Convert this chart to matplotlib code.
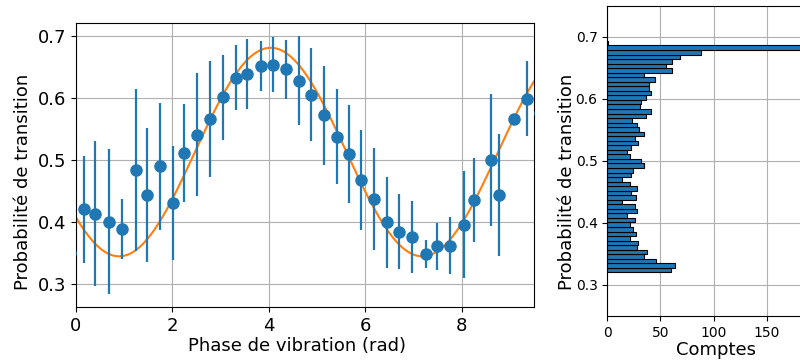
import numpy as np
import matplotlib
matplotlib.use("Agg")
import matplotlib.pyplot as plt

# measured transition probability vs vibration phase
phase = [-0.12, 0.17, 0.41, 0.70, 0.97, 1.25, 1.48, 1.75, 2.01, 2.25, 2.51, 2.79,
         3.05, 3.32, 3.56, 3.84, 4.08, 4.35, 4.63, 4.87, 5.14, 5.41, 5.66, 5.92,
         6.19, 6.45, 6.71, 6.98, 7.25, 7.49, 7.76, 8.05, 8.26, 8.61, 8.78, 9.08,
         9.35, 9.62]
prob = [0.351, 0.421, 0.414, 0.401, 0.389, 0.484, 0.444, 0.490, 0.431, 0.511,
        0.541, 0.566, 0.601, 0.633, 0.639, 0.652, 0.654, 0.646, 0.628, 0.605,
        0.572, 0.538, 0.510, 0.468, 0.438, 0.400, 0.385, 0.376, 0.349, 0.361,
        0.362, 0.396, 0.436, 0.500, 0.444, 0.566, 0.599, 0.576]
prob_err = [0.010, 0.086, 0.117, 0.117, 0.049, 0.130, 0.108, 0.102, 0.092, 0.079,
            0.099, 0.093, 0.069, 0.052, 0.056, 0.040, 0.045, 0.048, 0.072, 0.075,
            0.080, 0.077, 0.079, 0.081, 0.082, 0.073, 0.061, 0.058, 0.022, 0.038,
            0.046, 0.086, 0.068, 0.106, 0.098, 0.007, 0.060, 0.020]

# sinusoidal fit: p(phi) = offset - amp * cos(phi - phi0)
fit_offset = 0.513
fit_amp = 0.168
fit_phi0 = 0.90

# histogram of transition probabilities (bottom bin -> top bin)
hist_lo, hist_hi = 0.3203, 0.6936
hist_counts = [60, 64, 46, 35, 37, 28, 29, 21, 27, 24, 21, 26, 19, 28, 26, 14,
               27, 22, 28, 21, 14, 22, 24, 35, 32, 21, 19, 22, 29, 26, 35, 30,
               28, 23, 36, 41, 31, 32, 36, 41, 39, 39, 45, 35, 61, 55, 61, 68,
               88, 250, 1]

blue = "#1f77b4"
orange = "#ff7f0e"

fig = plt.figure(figsize=(8.0, 3.63), dpi=100)
ax1 = fig.add_axes([0.0946, 0.1543, 0.5733, 0.7832])
ax2 = fig.add_axes([0.7591, 0.1295, 0.2434, 0.8540])

# --- left panel: data + fit ---
phi = np.linspace(-0.5, 10, 400)
ax1.plot(phi, fit_offset - fit_amp * np.cos(phi - fit_phi0), color=orange, lw=1.5, zorder=2)
ax1.errorbar(phase, prob, yerr=prob_err, fmt="o", color=blue, ms=8, elinewidth=1.6,
             capsize=0, zorder=3)
ax1.set_xlim(0, 9.505)
ax1.set_ylim(0.2634, 0.7214)
ax1.set_xticks([0, 2, 4, 6, 8])
ax1.set_yticks([0.3, 0.4, 0.5, 0.6, 0.7])
ax1.set_xlabel("Phase de vibration (rad)", fontsize=13, labelpad=2)
ax1.set_ylabel("Probabilité de transition", fontsize=13)
ax1.xaxis.label.set_x(0.4836)
ax1.yaxis.label.set_y(0.4414)
ax1.tick_params(labelsize=13)
ax1.grid(True, color="#b0b0b0", lw=0.8)
ax1.set_axisbelow(True)

# --- right panel: histogram ---
edges = np.linspace(hist_lo, hist_hi, len(hist_counts) + 1)
centers = 0.5 * (edges[:-1] + edges[1:])
ax2.hist(centers, bins=edges, weights=hist_counts, orientation="horizontal",
         color=blue, edgecolor="black", lw=0.8)
ax2.set_xlim(0, 183.3)
ax2.set_ylim(0.25, 0.75)
ax2.set_xticks([0, 50, 100, 150])
ax2.set_yticks([0.3, 0.4, 0.5, 0.6, 0.7])
ax2.set_xlabel("Comptes", fontsize=13, labelpad=1)
ax2.set_ylabel("Probabilité de transition", fontsize=13, labelpad=0)
ax2.xaxis.label.set_x(0.558)
ax2.yaxis.label.set_y(0.4339)
ax2.tick_params(labelsize=10)
ax2.grid(True, color="#b0b0b0", lw=0.8)
ax2.set_axisbelow(True)

fig.savefig("out.png", dpi=100)
